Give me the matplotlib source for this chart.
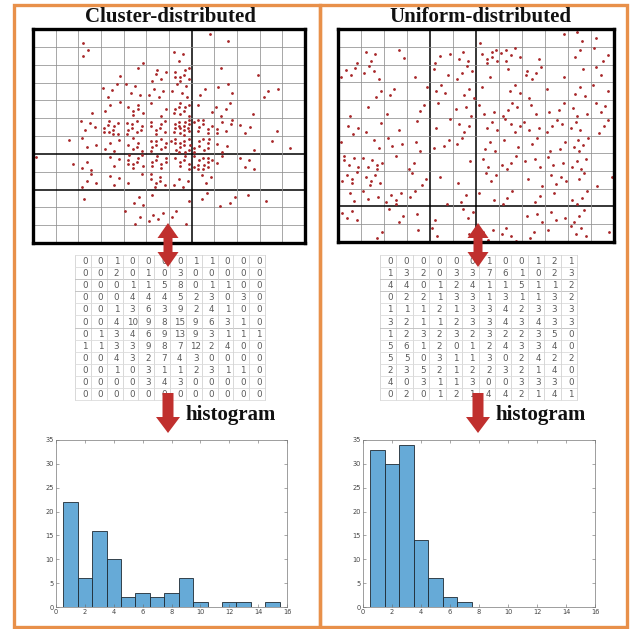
import numpy as np
import matplotlib
matplotlib.use("Agg")
import matplotlib.pyplot as plt
from matplotlib.patches import Rectangle, Polygon

# ---- data: cell counts of the 12x12 grid (row 1 = top) ----
cluster_counts = np.array([
    [0, 0, 1, 0, 0, 0, 0, 1, 1, 0, 0, 0],
    [0, 0, 2, 0, 1, 0, 3, 0, 0, 0, 0, 0],
    [0, 0, 0, 1, 1, 5, 8, 0, 1, 1, 0, 0],
    [0, 0, 0, 4, 4, 4, 5, 2, 3, 0, 3, 0],
    [0, 0, 1, 3, 6, 3, 9, 2, 4, 1, 0, 0],
    [0, 0, 4, 10, 9, 8, 15, 9, 6, 3, 1, 0],
    [0, 1, 3, 4, 6, 9, 13, 9, 3, 1, 1, 1],
    [1, 1, 3, 3, 9, 8, 7, 12, 2, 4, 0, 0],
    [0, 0, 4, 3, 2, 7, 4, 3, 0, 0, 0, 0],
    [0, 0, 1, 0, 3, 1, 1, 2, 3, 1, 1, 0],
    [0, 0, 0, 0, 3, 4, 3, 0, 0, 0, 0, 0],
    [0, 0, 0, 0, 0, 0, 0, 0, 0, 0, 0, 0],
])
uniform_counts = np.array([
    [0, 0, 0, 0, 0, 0, 1, 0, 0, 1, 2, 1],
    [1, 3, 2, 0, 3, 3, 7, 6, 1, 0, 2, 3],
    [4, 4, 0, 1, 2, 4, 1, 1, 5, 1, 1, 2],
    [0, 2, 2, 1, 3, 3, 1, 3, 1, 1, 3, 2],
    [1, 1, 1, 2, 1, 3, 3, 4, 2, 3, 3, 3],
    [3, 2, 1, 1, 2, 3, 3, 4, 3, 4, 3, 3],
    [1, 2, 3, 2, 3, 2, 3, 2, 2, 3, 5, 0],
    [5, 6, 1, 2, 0, 1, 2, 4, 3, 3, 4, 0],
    [5, 5, 0, 3, 1, 1, 3, 0, 2, 4, 2, 2],
    [2, 3, 5, 2, 1, 2, 2, 3, 2, 1, 4, 0],
    [4, 0, 3, 1, 1, 3, 0, 0, 3, 3, 3, 0],
    [0, 2, 0, 1, 2, 1, 4, 4, 2, 1, 4, 1],
])
titles = ["Cluster-distributed", "Uniform-distributed"]

W, H = 642, 629
ORANGE = "#E8904A"
ARROW = "#C0302E"
DOT = "#A8282A"
BAR = "#66AAD7"


def px_box(x0, y0, x1, y1):
    return [x0 / W, 1 - y1 / H, (x1 - x0) / W, (y1 - y0) / H]


def draw_scatter(ax, counts, dark_v, dark_h):
    n = counts.shape[0]
    xs, ys = [], []
    k = 0
    for r in range(n):
        for c in range(n):
            for i in range(counts[r, c]):
                k += 1
                u = (0.37 + k * 0.7548776662) % 1
                v = (0.61 + k * 0.5698402910) % 1
                xs.append(c + 0.08 + 0.84 * u)
                ys.append(n - 1 - r + 0.08 + 0.84 * v)
    for i in range(1, n):
        ax.axvline(i, color="#000" if i in dark_v else "#909090",
                   lw=1.1 if i in dark_v else 0.55, zorder=1)
        ax.axhline(i, color="#000" if i in dark_h else "#909090",
                   lw=1.1 if i in dark_h else 0.55, zorder=1)
    ax.plot(xs, ys, ".", ms=2.0, color=DOT, zorder=2)
    ax.set_xlim(0, n)
    ax.set_ylim(0, n)
    ax.set_xticks([])
    ax.set_yticks([])
    for s in ax.spines.values():
        s.set_linewidth(2.4)


def draw_hist(ax, counts):
    vals = counts[counts > 0]
    ax.hist(vals, bins=np.arange(0.5, 16.5, 1), color=BAR,
            edgecolor="#1e2a33", lw=0.6)
    ax.set_xlim(0, 16)
    ax.set_ylim(0, 35)
    ax.set_xticks(np.arange(0, 17, 2))
    ax.set_yticks(np.arange(0, 36, 5))
    ax.tick_params(direction="in", length=2, width=0.4, labelsize=4.8,
                   labelcolor="#444", color="#666", top=True, right=True, pad=1.5)
    for s in ax.spines.values():
        s.set_linewidth(0.5)
        s.set_color("#777")


def draw_table(ov, counts, x0, x1, y0, y1):
    n = counts.shape[0]
    cw = (x1 - x0) / n
    rh = (y1 - y0) / n
    for i in range(n + 1):
        ov.plot([x0 + i * cw] * 2, [y0, y1], color="#d2d2d2", lw=0.6)
        ov.plot([x0, x1], [y0 + i * rh] * 2,
                color="#bcbcbc" if i in (2, 3, 6) else "#dcdcdc", lw=0.6)
    for r in range(n):
        for c in range(n):
            ov.text(x0 + (c + 0.62) * cw, y0 + (r + 0.55) * rh, str(counts[r, c]),
                    ha="center", va="center", fontsize=6.3, color="#5a5a5a",
                    family="DejaVu Sans")


def double_arrow(ov, x, ya, yb, shaft=9, head=21, hl=15):
    pts = [(x, ya), (x + head / 2, ya + hl), (x + shaft / 2, ya + hl),
           (x + shaft / 2, yb - hl), (x + head / 2, yb - hl), (x, yb),
           (x - head / 2, yb - hl), (x - shaft / 2, yb - hl),
           (x - shaft / 2, ya + hl), (x - head / 2, ya + hl)]
    ov.add_patch(Polygon(pts, closed=True, fc=ARROW, ec="none", zorder=5))


def down_arrow(ov, x, ya, yb, shaft=11, head=24, hl=16):
    pts = [(x - shaft / 2, ya), (x + shaft / 2, ya), (x + shaft / 2, yb - hl),
           (x + head / 2, yb - hl), (x, yb), (x - head / 2, yb - hl),
           (x - shaft / 2, yb - hl)]
    ov.add_patch(Polygon(pts, closed=True, fc=ARROW, ec="none", zorder=5))


fig = plt.figure(figsize=(W / 100, H / 100), dpi=100)
fig.patch.set_facecolor("white")

panels = [
    dict(counts=cluster_counts, title=titles[0], px=(14, 320), cx=168,
         sc=(33, 29, 305, 243), tb=(75, 265), hs=(56, 440, 287, 607),
         dv=[7], dh=[3, 5]),
    dict(counts=uniform_counts, title=titles[1], px=(320, 627), cx=478,
         sc=(338, 29, 614, 242), tb=(380, 577), hs=(363, 440, 595, 607),
         dv=[4, 6], dh=[2]),
]

for p in panels:
    ax_s = fig.add_axes(px_box(*p["sc"]))
    draw_scatter(ax_s, p["counts"], p["dv"], p["dh"])
    ax_h = fig.add_axes(px_box(*p["hs"]))
    draw_hist(ax_h, p["counts"])

ov = fig.add_axes([0, 0, 1, 1], zorder=10)
ov.set_xlim(0, W)
ov.set_ylim(H, 0)
ov.axis("off")
ov.patch.set_alpha(0)

for p in panels:
    x0, x1 = p["px"]
    ov.add_patch(Rectangle((x0, 4.5), x1 - x0, 622, fc="none", ec=ORANGE, lw=2.4))
    ov.text(p["cx"] + 2, 17, p["title"], ha="center", va="center", fontsize=15,
            fontweight="bold", family="Liberation Serif", color="#111")
    draw_table(ov, p["counts"], p["tb"][0], p["tb"][1], 255, 400)
    double_arrow(ov, p["cx"], 223, 267)
    down_arrow(ov, p["cx"], 393, 433)
    ov.text(p["cx"] + 17, 415, "histogram", ha="left", va="center", fontsize=15,
            fontweight="bold", family="Liberation Serif", color="#111")

fig.savefig("out.png", dpi=100)
